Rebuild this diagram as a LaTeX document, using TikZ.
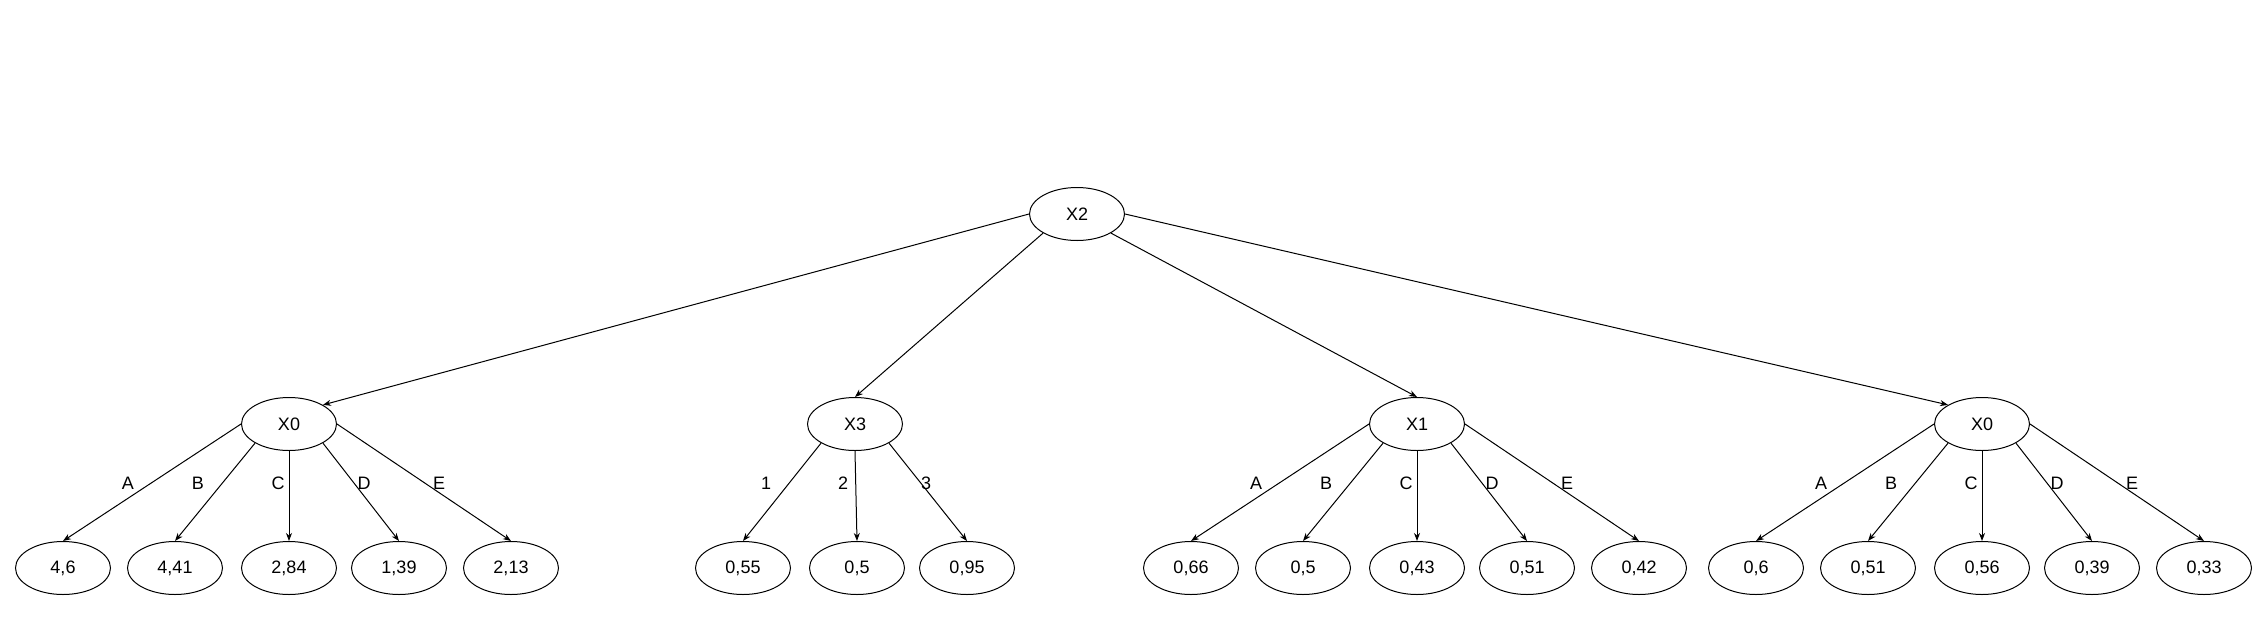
\documentclass[tikz,border=0pt]{standalone}
\usepackage{fontspec}
\setmainfont{Liberation Sans}
\usetikzlibrary{shapes.geometric,arrows.meta}
\begin{document}
\begin{tikzpicture}[x=1pt,y=-1pt,
  nd/.style={ellipse,draw,line width=1pt,minimum width=95pt,minimum height=53pt,inner sep=0pt,font=\fontsize{18}{20}\selectfont},
  arr/.style={-{Stealth[length=8pt,width=6pt,inset=2.5pt]},line width=1pt},
  lbl/.style={inner sep=0pt,font=\fontsize{18}{20}\selectfont}]
\useasboundingbox (0,0) rectangle (2268,638);
% root
\node[nd] (x2) at (1077,214) {X2};
% level 1
\node[nd] (a) at (289,424) {X0};
\node[nd] (b) at (855,424) {X3};
\node[nd] (c) at (1417,424) {X1};
\node[nd] (d) at (1982,424) {X0};
\draw[arr] (x2.west) -- (a.north east);
\draw[arr] (x2.south west) -- (b.north);
\draw[arr] (x2.south east) -- (c.north);
\draw[arr] (x2.east) -- (d.north west);
% leaves group a
\node[nd] (a1) at (63,568) {4,6};
\node[nd] (a2) at (175,568) {4,41};
\node[nd] (a3) at (289,568) {2,84};
\node[nd] (a4) at (399,568) {1,39};
\node[nd] (a5) at (511,568) {2,13};
\draw[arr] (a.west) -- (a1.north);
\draw[arr] (a.south west) -- (a2.north);
\draw[arr] (a.south) -- (a3.north);
\draw[arr] (a.south east) -- (a4.north);
\draw[arr] (a.east) -- (a5.north);
\node[lbl] (la1) at (128,483) {A};
\node[lbl] (la2) at (198,483) {B};
\node[lbl] (la3) at (278,483) {C};
\node[lbl] (la4) at (364,483) {D};
\node[lbl] (la5) at (439,483) {E};
% leaves group b
\node[nd] (b1) at (743,568) {0,55};
\node[nd] (b2) at (857,568) {0,5};
\node[nd] (b3) at (967,568) {0,95};
\draw[arr] (b.south west) -- (b1.north);
\draw[arr] (b.south) -- (b2.north);
\draw[arr] (b.south east) -- (b3.north);
\node[lbl] (lb1) at (766,483) {1};
\node[lbl] (lb2) at (843,483) {2};
\node[lbl] (lb3) at (926,483) {3};
% leaves group c
\node[nd] (c1) at (1191,568) {0,66};
\node[nd] (c2) at (1303,568) {0,5};
\node[nd] (c3) at (1417,568) {0,43};
\node[nd] (c4) at (1527,568) {0,51};
\node[nd] (c5) at (1639,568) {0,42};
\draw[arr] (c.west) -- (c1.north);
\draw[arr] (c.south west) -- (c2.north);
\draw[arr] (c.south) -- (c3.north);
\draw[arr] (c.south east) -- (c4.north);
\draw[arr] (c.east) -- (c5.north);
\node[lbl] (lc1) at (1256,483) {A};
\node[lbl] (lc2) at (1326,483) {B};
\node[lbl] (lc3) at (1406,483) {C};
\node[lbl] (lc4) at (1492,483) {D};
\node[lbl] (lc5) at (1567,483) {E};
% leaves group d
\node[nd] (d1) at (1756,568) {0,6};
\node[nd] (d2) at (1868,568) {0,51};
\node[nd] (d3) at (1982,568) {0,56};
\node[nd] (d4) at (2092,568) {0,39};
\node[nd] (d5) at (2204,568) {0,33};
\draw[arr] (d.west) -- (d1.north);
\draw[arr] (d.south west) -- (d2.north);
\draw[arr] (d.south) -- (d3.north);
\draw[arr] (d.south east) -- (d4.north);
\draw[arr] (d.east) -- (d5.north);
\node[lbl] (ld1) at (1821,483) {A};
\node[lbl] (ld2) at (1891,483) {B};
\node[lbl] (ld3) at (1971,483) {C};
\node[lbl] (ld4) at (2057,483) {D};
\node[lbl] (ld5) at (2132,483) {E};
\end{tikzpicture}
\end{document}
